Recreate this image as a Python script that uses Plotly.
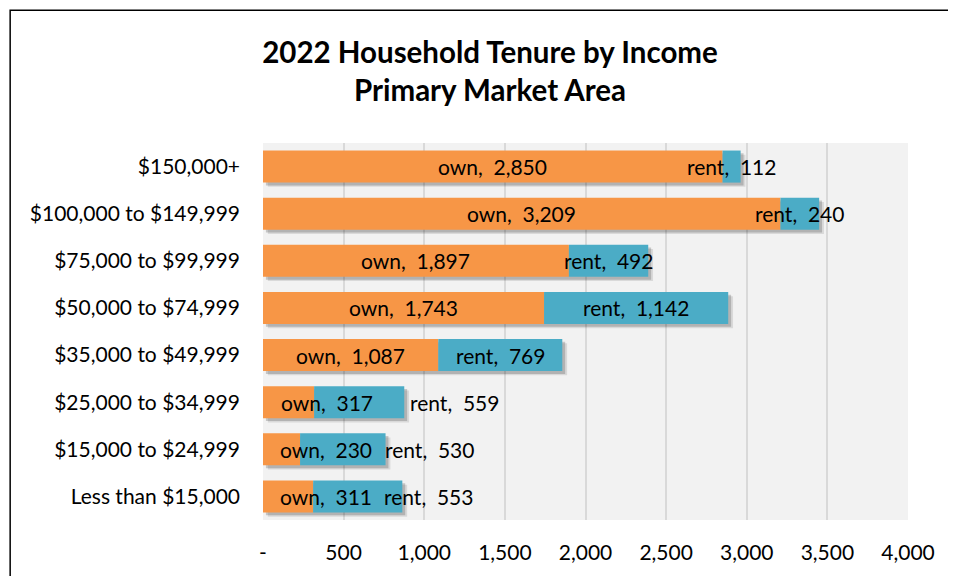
import plotly.graph_objects as go

# income bands, top to bottom as in the chart
income = ["$150,000+", "$100,000 to $149,999", "$75,000 to $99,999",
          "$50,000 to $74,999", "$35,000 to $49,999", "$25,000 to $34,999",
          "$15,000 to $24,999", "Less than $15,000"]
own = [2850, 3209, 1897, 1743, 1087, 317, 230, 311]
rent = [112, 240, 492, 1142, 769, 559, 530, 553]

tick_vals = [0, 500, 1000, 1500, 2000, 2500, 3000, 3500, 4000]
tick_text = ["-" if v == 0 else f"{v:,}" for v in tick_vals]

# label nudges in px (the small bars had their labels moved off the segment)
own_shift = [0, 0, 0, 0, 0, 38, 44, 38]
rent_shift = [0, 0, 0, 0, 0, 95, 87, 71]

ORANGE = "#F79646"
BLUE = "#4BACC6"
FONT = "Lato"

total = [o + r for o, r in zip(own, rent)]
W = 0.68

fig = go.Figure()
# soft drop shadow
fig.add_trace(go.Bar(y=income, x=total, base=[30] * 8, orientation="h",
                     width=W, offset=-W / 2 + 0.09,
                     marker=dict(color="rgba(0,0,0,0.10)", line_width=0),
                     hoverinfo="skip", showlegend=False))
fig.add_trace(go.Bar(y=income, x=total, base=[18] * 8, orientation="h",
                     width=W, offset=-W / 2 + 0.06,
                     marker=dict(color="rgba(0,0,0,0.18)", line_width=0),
                     hoverinfo="skip", showlegend=False))
fig.add_trace(go.Bar(y=income, x=own, orientation="h", name="own",
                     width=W, offset=-W / 2,
                     marker=dict(color=ORANGE, line_width=0)))
fig.add_trace(go.Bar(y=income, x=rent, base=own, orientation="h", name="rent",
                     width=W, offset=-W / 2,
                     marker=dict(color=BLUE, line_width=0)))

for i, cat in enumerate(income):
    fig.add_annotation(x=own[i] / 2, y=cat, text=f"own,  {own[i]:,}",
                       showarrow=False, xshift=own_shift[i],
                       font=dict(family=FONT, size=21, color="black"))
    fig.add_annotation(x=own[i] + rent[i] / 2, y=cat, text=f"rent,  {rent[i]:,}",
                       showarrow=False, xshift=rent_shift[i],
                       font=dict(family=FONT, size=21, color="black"))

# outer chart frame (only left/top edges fall inside the picture)
fig.add_shape(type="rect", xref="paper", yref="paper",
              x0=-0.392, x1=1.2, y0=-0.3, y1=1.352,
              line=dict(color="black", width=1.5), fillcolor="rgba(0,0,0,0)")

# page body has an 8px margin, so the figure is shrunk by that much
fig.update_layout(
    width=948, height=568,
    barmode="overlay",
    paper_bgcolor="white", plot_bgcolor="#F2F2F2",
    margin=dict(l=255, r=48, t=135, b=56),
    showlegend=False,
    font=dict(family=FONT, size=21, color="black"),
    title=dict(text="<b>2022 Household Tenure by Income<br>Primary Market Area</b>",
               x=482 / 948, xanchor="center", xref="container",
               y=1 - 55 / 568, yanchor="middle", yref="container",
               font=dict(family=FONT, size=29.5, color="black")),
    xaxis=dict(range=[0, 4000], tickvals=tick_vals, ticktext=tick_text,
               showgrid=True, gridcolor="#D9D9D9", gridwidth=1.5,
               zeroline=False, showline=False, ticks="",
               ticklabelstandoff=18, tickfont=dict(size=21)),
    yaxis=dict(categoryorder="array", categoryarray=income,
               autorange="reversed", showgrid=False, zeroline=False,
               ticks="", ticklabelstandoff=22, tickfont=dict(size=21)),
)

fig.write_html("out.html")
